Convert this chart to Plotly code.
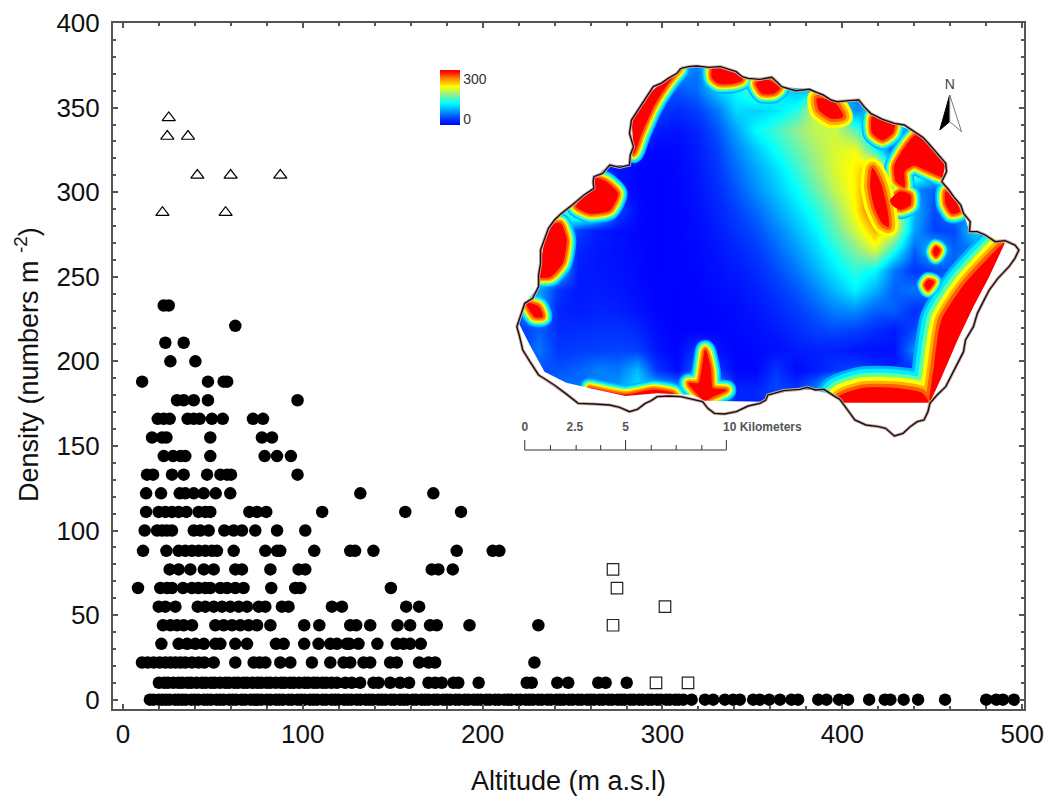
import plotly.graph_objects as go

# ---- scatter data: density rows and the altitudes read on each row ----
row_values = [0, 10, 22, 33, 44, 55, 66, 77, 88, 100, 111, 122, 133, 144, 155, 166, 177, 188, 200, 211, 221, 233]
row_0 = [15,17,20,22,24,26,29,31,33,35,38,40,42,45,47,49,52,54,56,59,61,63,66,68,71,73,75,77,80,82,85,87,89,92,94,97,99,101,104,106,108,111,113,116,118,120,123,125,127,130,132,135,137,139,142,144,146,149,151,154,156,158,161,163,166,168,170,173,175,178,180,182,185,187,190,192,195,197,199,202,204,207,209,212,214,216,219,221,224,226,228,231,233,236,238,241,243,245,248,250,253,255,258,260,262,265,267,270,272,275,277,279,282,284,287,289,292,294,297,299,302,304,307,309,311.6,316.2,323.6,328.2,334.7,339.3,343,350.4,354.1,359.3,365.3,371.7,375.4,386.6,391.2,398.2,403.2,414.9,423.6,426.7,434.1,442.1,457.1,480,485.6,489.3,495.4]
row_10 = [20,23,25,28,31,33,36,38,41,44,46,49,51,54,57,59,62,64,67,69,72,75,77,80,82,85,88,90,93,95,98,101,103,106,108,111,113,116,119,123.6,127.3,131.9,139.3,142.1,148.6,154.1,159.1,169.9,173.6,177.3,183.8,186.5,197.8,224.5,227.3,241.5,247.6,264.3,268.4,280.1]
row_22 = [10.6,13.8,17.1,20.4,23.6,26.4,29.2,32,34.7,38.4,42.1,45.3,50.5,62.5,72.7,76,79.2,87.5,93.1,105.1,115.3,122.7,126.4,133.8,137.5,148.6,152.3,164.7,169.9,173.6,228.8]
row_33 = [21.4,31,35.7,40.3,45,51.4,54.2,62.5,69,85.1,89.4,100.8,108.8,115.3,119,124.5,126,131,141.5,152.3,156,159.7,165.6]
row_44 = [22.3,26.4,30.1,33.8,38.4,51.4,56,60.7,65.3,69.9,74.6,82,100.8,109.2,126.4,129.7,137.5,152.7,159.7,170.8,174.5,192.7,231]
row_55 = [19.9,23.6,29.2,41.6,45.8,50.5,55.1,59.7,64.4,69,75.5,79.2,88.4,92.1,116.2,121.8,157.5,164.7]
row_66 = [8.4,20.8,24.5,27.3,33.4,38.4,42,45.8,48.6,54.2,57.9,62.5,67.1,82.5,95.8,98.6,149]
row_77 = [26,31,37.5,45,50.5,62.5,66.2,82,97.7,101.4,171.7,175.4,183.4]
row_88 = [11.2,24.2,31,34.7,38.4,42.1,45.8,49.5,52.3,61.6,79.2,85.7,87.5,106.4,126.4,129.1,139.3,185.6,205.6,209.3]
row_100 = [12.1,19,21.8,24.5,27.3,39.4,43.1,47.7,56.4,61.6,66.2,73.6,85.7,101.4]
row_111 = [12.9,19.9,23.6,27.3,31,35.3,42.1,45.8,48.6,70.3,74.6,79.7,110.8,157,188]
row_122 = [12.9,21.2,31.6,34.7,39.4,44.9,51.6,59.7,132,172.6]
row_133 = [13.4,16.8,27.3,33.8,46.8,54.2,57.9,60.1,97.1]
row_144 = [22.7,27.9,32,34.7,48.6,78.8,85.7,93.4]
row_155 = [16.2,21.8,24.2,48.6,77.3,82.9]
row_166 = [19.4,22.7,26,36,39.4,42.7,49.5,55.5,72.3,77.9]
row_177 = [30.1,33.8,39.4,47.3,97.1]
row_188 = [10.7,47.3,56,58]
row_200 = [26.4,40.3]
row_211 = [23.6,33.8]
row_221 = [62.5]
row_233 = [22.7,25.5]
rows = [row_0,row_10,row_22,row_33,row_44,row_55,row_66,row_77,row_88,row_100,row_111,row_122,row_133,row_144,row_155,row_166,row_177,row_188,row_200,row_211,row_221,row_233]

triangle_x = [25.5,24.7,36.2,41.4,59.9,87.5,22,57.1]
triangle_y = [344,333,333,310,310,310,288,288]
square_x = [272.5,274.7,301.4,272.5,296.4,314.2]
square_y = [77,66,55,44,10,10]

x_ticks = [0,100,200,300,400,500]
y_ticks = [0,50,100,150,200,250,300,350,400]

# ---- inset map data, in map units ----
grid_x = [250,300,350,400,450,500,550,600,650,700,750,800,850,900,950,1000,1050,1100,1150,1200,1250,1300,1350,1400,1450,1500]
grid_y = [60,120,180,240,300,360,420,480,540,600,660,720,780,840,900,960,1020,1080]
grid_z = [
[10,10,10,10,10,10,90,70,80,60,120,130,140,120,100,90,80,80,80,80,80,80,80,80,80,80],
[10,10,10,10,10,10,60,50,45,55,100,120,150,120,90,90,70,60,60,60,60,60,60,60,60,60],
[10,10,10,10,10,10,70,35,25,35,60,105,100,110,130,190,150,70,100,80,80,100,100,100,100,100],
[10,10,10,10,10,10,50,15,10,20,45,80,120,140,165,185,190,150,80,60,100,150,150,100,100,100],
[10,10,10,10,10,10,10,3,5,15,35,65,95,125,150,175,195,205,130,40,70,200,200,100,100,100],
[10,10,10,10,30,10,3,0,3,12,30,55,80,105,135,165,195,215,260,90,180,120,100,100,100,100],
[40,40,40,40,60,10,2,0,2,10,25,45,70,95,120,150,185,215,280,120,70,50,120,100,100,100],
[60,60,100,200,150,40,5,0,2,8,20,35,55,80,105,130,165,210,285,220,90,40,70,60,60,60],
[100,100,100,35,15,8,3,0,2,6,15,28,42,65,90,115,150,190,240,200,80,35,40,100,100,100],
[100,100,100,20,12,8,4,0,1,4,10,20,32,52,75,100,130,160,195,130,50,100,50,60,100,100],
[100,100,100,15,12,10,5,0,1,3,8,14,24,40,60,85,112,135,120,60,30,40,50,130,200,200],
[80,80,30,12,15,12,6,1,0,2,6,10,17,30,45,65,90,115,85,50,60,50,80,200,300,300],
[60,80,20,15,20,18,10,2,0,1,3,6,12,22,33,48,65,70,50,50,25,40,140,300,300,300],
[30,50,25,25,28,28,22,6,0,1,2,4,8,14,24,35,40,35,25,15,40,120,300,300,300,300],
[30,60,30,35,35,38,35,10,2,30,10,2,4,8,15,18,18,12,8,10,70,140,300,300,300,300],
[30,40,45,50,65,60,90,30,5,60,30,3,3,30,5,15,30,40,25,15,30,150,300,300,300,300],
[30,40,60,60,60,80,110,100,90,120,100,20,20,40,30,70,150,220,240,240,200,200,300,300,300,300],
[30,40,60,60,60,80,110,100,90,120,100,20,20,40,30,70,150,220,240,240,200,200,300,300,300,300],
]
colour_stops = [[0,"#0000ff"],[0.12,"#0040ff"],[0.4,"#00ffff"],[0.55,"#90f090"],[0.7,"#ffff00"],[0.85,"#ff8000"],[0.97,"#ff0000"],[1,"#ff0000"]]

coast_x = [660,680,700,730,760,780,800,815,830,860,890,905,915,950,985,1005,1020,1040,1055,1085,1110,1125,1140,1170,1200,1225,1250,1272,1290,1310,1330,1332,1320,1338,1350,1368,1375,1392,1390,1410,1430,1455,1480,1505,1515,1505,1490,1462,1440,1425,1410,1400,1380,1375,1360,1345,1330,1308,1290,1285,1275,1258,1240,1222,1200,1178,1160,1128,1100,1088,1075,1062,1050,1022,1000,980,960,920,880,875,860,830,800,770,745,728,715,690,660,630,600,585,570,550,530,505,480,440,400,368,340,320,300,278,260,252,245,255,265,285,300,300,305,305,315,325,340,358,385,415,440,438,440,462,480,505,530,532,540,530,535,555,580,590,610,628,650,660]
coast_y = [55,50,48,52,50,58,65,80,85,88,82,98,110,122,118,128,135,150,155,152,150,172,190,208,220,225,245,262,285,312,340,365,395,420,440,465,490,515,545,545,555,575,572,585,600,625,650,685,720,755,790,830,870,905,940,975,1010,1035,1060,1085,1110,1115,1130,1150,1158,1135,1130,1125,1110,1090,1070,1048,1040,1018,1020,1012,1018,1022,1035,1050,1060,1068,1085,1092,1090,1075,1055,1048,1040,1038,1040,1052,1060,1078,1085,1072,1065,1062,1060,1030,1005,990,975,935,900,860,830,795,760,745,710,675,640,600,570,535,510,490,465,435,415,395,380,370,345,352,345,315,290,250,210,175,130,110,100,85,70,55]
area_x = [660,700,760,800,830,890,915,985,1020,1055,1110,1140,1200,1250,1290,1330,1320,1350,1375,1390,1430,1480,1440,1400,1360,1320,1290,1070,1040,1000,960,880,875,720,690,600,520,430,370,315,280,250,265,300,305,315,340,385,440,440,480,530,540,535,580,610,650,660]
area_y = [55,48,50,65,85,82,110,118,135,155,150,190,220,245,285,340,395,440,490,545,555,578,680,770,870,980,1058,1058,1035,1020,1018,1035,1055,1052,1035,1030,1038,1015,998,965,890,820,760,710,640,570,510,465,415,380,345,345,290,210,130,100,70,55]

# red patches as closed outlines (x list, y list), grouped by how wide their colour rim is
patches_cool = [
    ([655,640,610,590,560,540,530,530,575,610,650],[60,80,130,170,250,310,300,210,130,95,65]),
    ([740,800,815,790,755,740],[55,65,90,100,100,85]),
    ([850,880,910,895,865],[100,90,115,130,130]),
    ([1145,1200,1195,1170,1145],[200,220,250,270,250]),
    ([1260,1300,1335,1325,1280,1250,1225,1225,1205,1200,1225],[250,290,350,380,360,345,365,410,395,350,295]),
    ([1190,1215,1240,1240,1215,1195],[450,425,435,465,478,465]),
    ([1330,1350,1365,1345,1330],[425,445,485,490,460]),
    ([722,735,740,775,740,720,700,680,705],[900,960,1015,1020,1040,1052,1030,1000,1000]),
    ([430,520,590,640,650,610,570,520],[1015,1035,1020,1030,1045,1050,1040,1040]),
    ([440,470,500,480,430,395,400],[385,395,430,480,490,470,460]),
    ([355,370,360,330,300,310,325],[520,570,640,680,680,590,530]),
    ([270,300,310,290],[760,770,800,800]),
]
patches_small = [
    ([1305,1315,1305,1298],[590,600,620,605]),
    ([1285,1300,1285,1277],[690,695,720,705]),
]
patches_wide = [
    ([1478,1440,1400,1365,1320,1290,1295,1300,1320,1380],[580,680,770,870,990,1050,1000,960,810,700]),
    ([1070,1285,1270,1200,1120,1060],[1058,1058,1030,1015,1015,1040]),
]
patches_warm = [
    ([1005,1050,1070,1040,1010],[145,160,200,205,180]),
    ([1145,1165,1180,1185,1170,1150,1140],[355,400,470,530,520,470,410]),
]
rim_colours = ["#0030ff","#0070ff","#00b0ff","#00f0ff","#60ffa0","#ffff00","#ffb000","#ff6000"]
rim_cool = [0,0,20,17,14,11,8,5]
rim_small = [0,0,16,14,12,9,6,4]
rim_wide = [0,0,44,38,30,22,14,8]
rim_warm = [0,0,0,0,0,20,13,7]

bar_ticks = [265,330,395,457,520,585,648,713,775]
bar_major = [265,520,775]
bar_labels = ["0","2.5","5","10 Kilometers"]
bar_label_x = [265,392,520,866]
north_black_x = [1315,1340,1340,1315]
north_black_y = [240,135,215,240]
north_white_x = [1340,1370,1340,1340]
north_white_y = [135,245,215,135]

FONT = "Liberation Sans, Arial, sans-serif"

def joined(patches):
    xs, ys = [], []
    for a, b in patches:
        xs += list(a) + [a[0], None]
        ys += list(b) + [b[0], None]
    return xs, ys

fig = go.Figure()

fig.add_trace(go.Heatmap(x=grid_x, y=grid_y, z=grid_z, zmin=0, zmax=300, zsmooth="best",
    colorscale=colour_stops, xaxis="x2", yaxis="y2", hoverinfo="skip",
    colorbar=dict(xref="container", yref="container", x=440/1048, xanchor="left", y=1-146/800, yanchor="bottom", thickness=20, thicknessmode="pixels",
                  len=55, lenmode="pixels", xpad=0, ypad=0, outlinewidth=0, ticks="", tickvals=[33,250], ticktext=["0","300"],
                  tickfont=dict(family=FONT, size=14, color="#333333"))))
for group, widths in ((patches_wide, rim_wide), (patches_cool, rim_cool), (patches_small, rim_small), (patches_warm, rim_warm)):
    gx, gy = joined(group)
    for c, w in zip(rim_colours, widths):
        if w:
            fig.add_trace(go.Scatter(x=gx, y=gy, mode="lines", line=dict(color=c, width=w, shape="spline", smoothing=0.6), xaxis="x2", yaxis="y2", hoverinfo="skip", showlegend=False))
hx, hy = joined(patches_wide + patches_cool + patches_small + patches_warm)
fig.add_trace(go.Scatter(x=hx, y=hy, mode="lines", fill="toself", fillcolor="#ff0000", line=dict(color="#ff0000", width=1, shape="spline", smoothing=0.6), xaxis="x2", yaxis="y2", hoverinfo="skip", showlegend=False))
# white surround: one keyhole polygon whose hole is the interpolated area
mask_x = [660,1560,1560,200,200,660] + area_x[::-1] + [660]
mask_y = [0,0,1190,1190,0,0] + area_y[::-1] + [0]
fig.add_trace(go.Scatter(x=mask_x, y=mask_y, mode="lines", fill="toself", fillcolor="white", line=dict(color="white", width=0), xaxis="x2", yaxis="y2", hoverinfo="skip", showlegend=False))
fig.add_trace(go.Scatter(x=coast_x, y=coast_y, mode="lines", line=dict(color="#c9aaa4", width=3.2), xaxis="x2", yaxis="y2", hoverinfo="skip", showlegend=False))
fig.add_trace(go.Scatter(x=coast_x, y=coast_y, mode="lines", line=dict(color="#1a1010", width=1.4), xaxis="x2", yaxis="y2", hoverinfo="skip", showlegend=False))
# scale bar
sx, sy = [], []
for t in bar_ticks:
    sx += [t, t, None]
    sy += [1170 if t in bar_major else 1185, 1200, None]
sx += [bar_ticks[0], bar_ticks[-1]]
sy += [1200, 1200]
fig.add_trace(go.Scatter(x=sx, y=sy, mode="lines", line=dict(color="#333333", width=1), xaxis="x2", yaxis="y2", hoverinfo="skip", showlegend=False))
fig.add_trace(go.Scatter(x=bar_label_x, y=[1135]*4, mode="text", text=[f"<b>{t}</b>" for t in bar_labels], textfont=dict(family=FONT, size=12, color="#555555"), xaxis="x2", yaxis="y2", hoverinfo="skip", showlegend=False))
# north arrow
fig.add_trace(go.Scatter(x=north_black_x, y=north_black_y, mode="lines", fill="toself", fillcolor="black", line=dict(color="black", width=1), xaxis="x2", yaxis="y2", hoverinfo="skip", showlegend=False))
fig.add_trace(go.Scatter(x=north_white_x, y=north_white_y, mode="lines", fill="toself", fillcolor="white", line=dict(color="#777777", width=1), xaxis="x2", yaxis="y2", hoverinfo="skip", showlegend=False))
fig.add_trace(go.Scatter(x=[1340], y=[105], mode="text", text=["N"], textfont=dict(family=FONT, size=14, color="#444444"), xaxis="x2", yaxis="y2", hoverinfo="skip", showlegend=False))

# main scatter
px, py = [], []
for v, r in zip(row_values, rows):
    px += r
    py += [v]*len(r)
fig.add_trace(go.Scatter(x=px, y=py, mode="markers", marker=dict(symbol="circle", size=12.5, color="black"), showlegend=False))
fig.add_trace(go.Scatter(x=triangle_x, y=triangle_y, mode="markers", marker=dict(symbol="triangle-up-open", size=11.5, color="black", line=dict(width=1.2)), showlegend=False))
fig.add_trace(go.Scatter(x=square_x, y=square_y, mode="markers", marker=dict(symbol="square-open", size=11.5, color="#222222", line=dict(width=1.2)), showlegend=False))

axis_common = dict(showgrid=False, zeroline=False, showline=True, linecolor="#555555", linewidth=2, mirror="ticks",
                   ticks="inside", ticklen=5, tickcolor="#555555", tickwidth=1.5, automargin=False,
                   tickfont=dict(family=FONT, size=26, color="#111111"))
fig.update_layout(
    width=1048, height=800, margin=dict(l=113, r=24, t=23, b=91, autoexpand=False),
    paper_bgcolor="white", plot_bgcolor="white", showlegend=False,
    xaxis=dict(range=[-5.5, 501], tickvals=x_ticks, ticklabelstandoff=1, minor=dict(dtick=20, ticks="inside", ticklen=3, tickcolor="#555555"), **axis_common),
    yaxis=dict(range=[-5.5, 400], tickvals=y_ticks, ticklabelstandoff=6, minor=dict(dtick=10, ticks="inside", ticklen=3, tickcolor="#555555"), **axis_common),
    xaxis2=dict(range=[-776.7, 1528], overlaying="x", anchor="y2", visible=False, fixedrange=True),
    yaxis2=dict(range=[1977, -81], overlaying="y", anchor="x2", visible=False, fixedrange=True),
    annotations=[
        dict(text="Altitude (m a.s.l)", xref="paper", yref="paper", x=0.5, y=-72/686, yanchor="middle", xanchor="center", showarrow=False,
             font=dict(family=FONT, size=27, color="#111111")),
        dict(text="Density (numbers m <sup>-2</sup>)", xref="paper", yref="paper", x=-86/911, y=1-342/686, xanchor="center", yanchor="middle", textangle=-90, showarrow=False,
             font=dict(family=FONT, size=27, color="#111111")),
    ],
)
fig.write_html("out.html", post_script="document.body.style.margin='0';", config={"displayModeBar": False})
